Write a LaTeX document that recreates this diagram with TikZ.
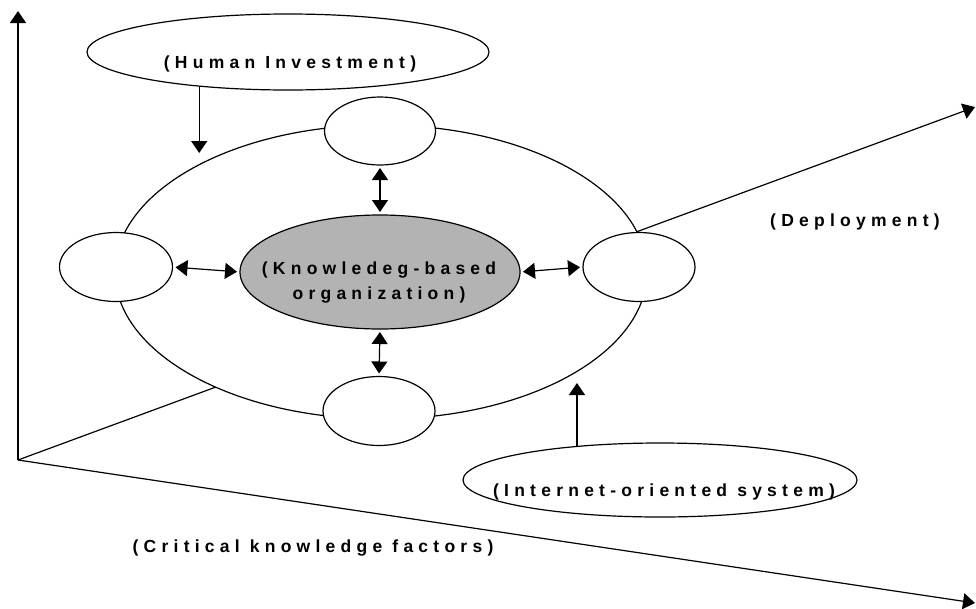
\documentclass[tikz,border=0pt]{standalone}
\usepackage{fontspec}
\newfontfamily\labfont[LetterSpace=30]{Liberation Sans}
\usetikzlibrary{shapes.geometric,arrows.meta}
\definecolor{kgray}{RGB}{179,179,179}
\begin{document}
\begin{tikzpicture}[x=1pt,y=-1pt,
  every node/.style={inner sep=0pt,outer sep=0pt},
  ell/.style={draw,ellipse,line width=1.2pt,fill=white},
  lab/.style={font=\labfont\bfseries\fontsize{17.5}{25}\selectfont,align=center},
  arr/.style={line width=1.2pt,-{Triangle[width=16pt,length=12pt]}},
  darr/.style={line width=1.2pt,{Triangle[width=16pt,length=12pt]}-{Triangle[width=16pt,length=12pt]},shorten <=3pt,shorten >=3pt}]
\useasboundingbox (0,0) rectangle (976,608);
% axes
\coordinate (O) at (18,460);
\coordinate (ytip) at (18,11);
\coordinate (dtip) at (975,107);
\coordinate (ctip) at (975,603);
\draw[arr] (O) -- (ytip);
\draw[arr] (O) -- (dtip);
\draw[arr] (O) -- (ctip);
% big ellipse
\node[ell,minimum width=532pt,minimum height=294pt] (big) at (381,272) {};
% small ellipses
\node[ell,minimum width=111pt,minimum height=68pt] (top) at (380,131) {};
\node[ell,minimum width=112pt,minimum height=69pt] (bot) at (379,411) {};
\node[ell,minimum width=113pt,minimum height=69pt] (left) at (116,267) {};
\node[ell,minimum width=112pt,minimum height=69pt] (right) at (639,267) {};
% central
\node[ell,fill=kgray,minimum width=280pt,minimum height=114pt] (core) at (380,272) {};
\node[lab] (coretext) at (379,283) {(Knowledeg-based\\organization)};
% double arrows
\draw[darr] (top.south) -- (core.north);
\draw[darr] (core.south) -- (bot.north);
\draw[darr] (left.east) -- (core.west);
\draw[darr] (core.east) -- (right.west);
% human investment
\node[ell,minimum width=402pt,minimum height=76pt] (human) at (288,52) {};
\node[lab] (humantext) at (290,64) {(Human Investment)};
\coordinate (htip) at (199,153);
\draw[arr] (human.201) -- (human.201 |- htip);
% internet
\node[ell,minimum width=394pt,minimum height=74pt] (inet) at (660,480) {};
\node[lab] (inettext) at (664,492) {(Internet-oriented system)};
\coordinate (itip) at (575,383);
\draw[arr] (inet.158.5) -- (inet.158.5 |- itip);
% axis labels
\node[lab] (deploy) at (855,222) {(Deployment)};
\node[lab] (crit) at (313,548) {(Critical knowledge factors)};
\end{tikzpicture}
\end{document}
